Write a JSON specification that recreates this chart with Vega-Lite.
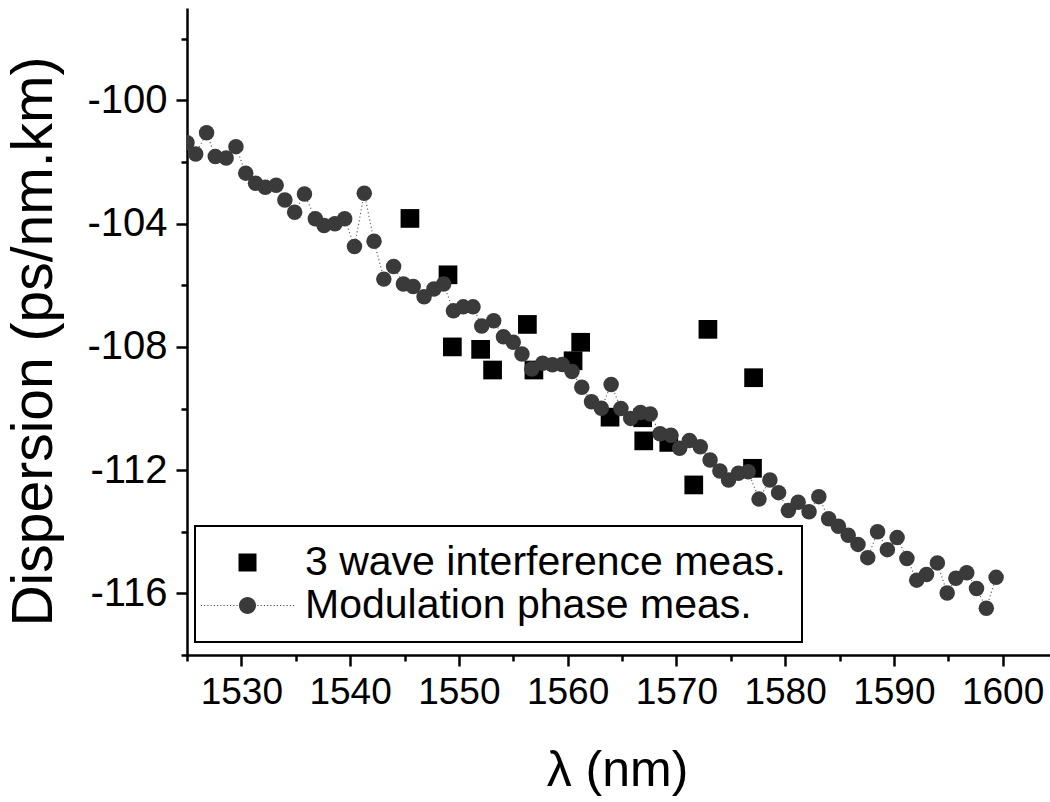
{
  "$schema": "https://vega.github.io/schema/vega-lite/v6.json",
  "autosize": {"type": "none"},
  "padding": {"left": 187, "top": 8, "right": 0, "bottom": 147},
  "width": 870,
  "height": 647,
  "background": "white",
  "config": {
    "view": {"stroke": null},
    "font": "Liberation Sans",
    "axis": {"grid": false, "domainColor": "black", "tickColor": "black", "domainWidth": 2.5, "tickWidth": 2.5, "labelColor": "black", "titleColor": "black", "labelFont": "Liberation Sans", "titleFont": "Liberation Sans", "titleFontWeight": "normal"},
    "legend": {"strokeWidth": 2}
  },
  "data": {"values": [
    {"wl": 1525.0, "d": -101.37, "series": "Modulation phase meas."},
    {"wl": 1525.8, "d": -101.74, "series": "Modulation phase meas."},
    {"wl": 1526.8, "d": -101.05, "series": "Modulation phase meas."},
    {"wl": 1527.6, "d": -101.82, "series": "Modulation phase meas."},
    {"wl": 1528.6, "d": -101.87, "series": "Modulation phase meas."},
    {"wl": 1529.5, "d": -101.50, "series": "Modulation phase meas."},
    {"wl": 1530.4, "d": -102.36, "series": "Modulation phase meas."},
    {"wl": 1531.3, "d": -102.69, "series": "Modulation phase meas."},
    {"wl": 1532.2, "d": -102.82, "series": "Modulation phase meas."},
    {"wl": 1533.2, "d": -102.75, "series": "Modulation phase meas."},
    {"wl": 1534.0, "d": -103.23, "series": "Modulation phase meas."},
    {"wl": 1534.9, "d": -103.63, "series": "Modulation phase meas."},
    {"wl": 1535.8, "d": -103.04, "series": "Modulation phase meas."},
    {"wl": 1536.8, "d": -103.84, "series": "Modulation phase meas."},
    {"wl": 1537.6, "d": -104.06, "series": "Modulation phase meas."},
    {"wl": 1538.6, "d": -104.00, "series": "Modulation phase meas."},
    {"wl": 1539.5, "d": -103.84, "series": "Modulation phase meas."},
    {"wl": 1540.4, "d": -104.74, "series": "Modulation phase meas."},
    {"wl": 1541.3, "d": -103.01, "series": "Modulation phase meas."},
    {"wl": 1542.2, "d": -104.57, "series": "Modulation phase meas."},
    {"wl": 1543.1, "d": -105.80, "series": "Modulation phase meas."},
    {"wl": 1544.0, "d": -105.39, "series": "Modulation phase meas."},
    {"wl": 1544.9, "d": -105.96, "series": "Modulation phase meas."},
    {"wl": 1545.8, "d": -106.04, "series": "Modulation phase meas."},
    {"wl": 1546.8, "d": -106.37, "series": "Modulation phase meas."},
    {"wl": 1547.7, "d": -106.12, "series": "Modulation phase meas."},
    {"wl": 1548.6, "d": -105.96, "series": "Modulation phase meas."},
    {"wl": 1549.5, "d": -106.83, "series": "Modulation phase meas."},
    {"wl": 1550.4, "d": -106.70, "series": "Modulation phase meas."},
    {"wl": 1551.3, "d": -106.70, "series": "Modulation phase meas."},
    {"wl": 1552.1, "d": -107.32, "series": "Modulation phase meas."},
    {"wl": 1553.2, "d": -107.15, "series": "Modulation phase meas."},
    {"wl": 1554.1, "d": -107.67, "series": "Modulation phase meas."},
    {"wl": 1555.0, "d": -107.85, "series": "Modulation phase meas."},
    {"wl": 1555.8, "d": -108.23, "series": "Modulation phase meas."},
    {"wl": 1556.7, "d": -108.72, "series": "Modulation phase meas."},
    {"wl": 1557.7, "d": -108.53, "series": "Modulation phase meas."},
    {"wl": 1558.6, "d": -108.58, "series": "Modulation phase meas."},
    {"wl": 1559.5, "d": -108.57, "series": "Modulation phase meas."},
    {"wl": 1560.4, "d": -108.80, "series": "Modulation phase meas."},
    {"wl": 1561.3, "d": -109.31, "series": "Modulation phase meas."},
    {"wl": 1562.2, "d": -109.78, "series": "Modulation phase meas."},
    {"wl": 1563.1, "d": -109.99, "series": "Modulation phase meas."},
    {"wl": 1564.0, "d": -109.22, "series": "Modulation phase meas."},
    {"wl": 1564.9, "d": -110.00, "series": "Modulation phase meas."},
    {"wl": 1565.8, "d": -110.32, "series": "Modulation phase meas."},
    {"wl": 1566.7, "d": -110.13, "series": "Modulation phase meas."},
    {"wl": 1567.6, "d": -110.18, "series": "Modulation phase meas."},
    {"wl": 1568.5, "d": -110.82, "series": "Modulation phase meas."},
    {"wl": 1569.5, "d": -110.87, "series": "Modulation phase meas."},
    {"wl": 1570.3, "d": -111.29, "series": "Modulation phase meas."},
    {"wl": 1571.2, "d": -111.04, "series": "Modulation phase meas."},
    {"wl": 1572.2, "d": -111.24, "series": "Modulation phase meas."},
    {"wl": 1573.1, "d": -111.67, "series": "Modulation phase meas."},
    {"wl": 1574.0, "d": -112.03, "series": "Modulation phase meas."},
    {"wl": 1574.8, "d": -112.32, "series": "Modulation phase meas."},
    {"wl": 1575.7, "d": -112.10, "series": "Modulation phase meas."},
    {"wl": 1576.6, "d": -112.05, "series": "Modulation phase meas."},
    {"wl": 1577.6, "d": -112.94, "series": "Modulation phase meas."},
    {"wl": 1578.6, "d": -112.32, "series": "Modulation phase meas."},
    {"wl": 1579.4, "d": -112.73, "series": "Modulation phase meas."},
    {"wl": 1580.3, "d": -113.31, "series": "Modulation phase meas."},
    {"wl": 1581.2, "d": -113.04, "series": "Modulation phase meas."},
    {"wl": 1582.2, "d": -113.35, "series": "Modulation phase meas."},
    {"wl": 1583.1, "d": -112.86, "series": "Modulation phase meas."},
    {"wl": 1584.0, "d": -113.58, "series": "Modulation phase meas."},
    {"wl": 1584.9, "d": -113.82, "series": "Modulation phase meas."},
    {"wl": 1585.8, "d": -114.11, "series": "Modulation phase meas."},
    {"wl": 1586.7, "d": -114.41, "series": "Modulation phase meas."},
    {"wl": 1587.6, "d": -114.84, "series": "Modulation phase meas."},
    {"wl": 1588.5, "d": -114.00, "series": "Modulation phase meas."},
    {"wl": 1589.4, "d": -114.58, "series": "Modulation phase meas."},
    {"wl": 1590.3, "d": -114.19, "series": "Modulation phase meas."},
    {"wl": 1591.2, "d": -114.87, "series": "Modulation phase meas."},
    {"wl": 1592.1, "d": -115.57, "series": "Modulation phase meas."},
    {"wl": 1593.0, "d": -115.39, "series": "Modulation phase meas."},
    {"wl": 1594.0, "d": -115.01, "series": "Modulation phase meas."},
    {"wl": 1594.9, "d": -115.99, "series": "Modulation phase meas."},
    {"wl": 1595.7, "d": -115.51, "series": "Modulation phase meas."},
    {"wl": 1596.7, "d": -115.33, "series": "Modulation phase meas."},
    {"wl": 1597.6, "d": -115.84, "series": "Modulation phase meas."},
    {"wl": 1598.5, "d": -116.48, "series": "Modulation phase meas."},
    {"wl": 1599.4, "d": -115.48, "series": "Modulation phase meas."},
    {"wl": 1545.5, "d": -103.83, "series": "3 wave interference meas."},
    {"wl": 1549.0, "d": -105.66, "series": "3 wave interference meas."},
    {"wl": 1549.4, "d": -108.00, "series": "3 wave interference meas."},
    {"wl": 1552.0, "d": -108.08, "series": "3 wave interference meas."},
    {"wl": 1553.1, "d": -108.75, "series": "3 wave interference meas."},
    {"wl": 1556.3, "d": -107.27, "series": "3 wave interference meas."},
    {"wl": 1556.9, "d": -108.75, "series": "3 wave interference meas."},
    {"wl": 1560.5, "d": -108.45, "series": "3 wave interference meas."},
    {"wl": 1561.2, "d": -107.85, "series": "3 wave interference meas."},
    {"wl": 1563.9, "d": -110.28, "series": "3 wave interference meas."},
    {"wl": 1566.9, "d": -110.30, "series": "3 wave interference meas."},
    {"wl": 1567.0, "d": -111.05, "series": "3 wave interference meas."},
    {"wl": 1569.3, "d": -111.10, "series": "3 wave interference meas."},
    {"wl": 1571.6, "d": -112.48, "series": "3 wave interference meas."},
    {"wl": 1572.9, "d": -107.43, "series": "3 wave interference meas."},
    {"wl": 1577.0, "d": -111.94, "series": "3 wave interference meas."},
    {"wl": 1577.1, "d": -109.00, "series": "3 wave interference meas."}
  ]},
  "resolve": {"axis": {"x": "independent", "y": "independent"}},
  "layer": [
    {
      "transform": [{"filter": "datum.series === '3 wave interference meas.'"}],
      "mark": {"type": "point", "shape": "square", "filled": true, "color": "black", "size": 350, "opacity": 1, "clip": true},
      "encoding": {
        "x": {"field": "wl", "type": "quantitative", "scale": {"domain": [1525, 1605], "nice": false, "zero": false},
          "axis": {"orient": "bottom", "values": [1530, 1540, 1550, 1560, 1570, 1580, 1590, 1600], "format": "d", "tickSize": 11, "labelFontSize": 37, "labelPadding": 8, "labelFlush": false, "labelOverlap": false, "title": "λ (nm)", "titleFontSize": 50, "titleX": 430, "titleY": 130, "titleBaseline": "alphabetic"}},
        "y": {"field": "d", "type": "quantitative", "scale": {"domain": [-118, -97], "nice": false, "zero": false},
          "axis": {"orient": "left", "values": [-100, -104, -108, -112, -116], "tickSize": 11, "labelFontSize": 40, "labelPadding": 9, "labelFlush": false, "labelOverlap": false, "labelExpr": "replace(datum.label, '−', '-')", "title": "Dispersion (ps/nm.km)", "titleFontSize": 57, "titleX": -136, "titleY": 333, "titleBaseline": "alphabetic"}}
      }
    },
    {
      "transform": [{"filter": "datum.series === 'Modulation phase meas.'"}],
      "mark": {"type": "line", "color": "#666666", "strokeWidth": 1.2, "strokeDash": [1.2, 2.5], "clip": true},
      "encoding": {
        "x": {"field": "wl", "type": "quantitative", "axis": null},
        "y": {"field": "d", "type": "quantitative", "axis": null}
      }
    },
    {
      "transform": [{"filter": "datum.series === 'Modulation phase meas.'"}],
      "mark": {"type": "circle", "color": "#3a3a3a", "size": 240, "opacity": 1, "clip": true},
      "encoding": {
        "x": {"field": "wl", "type": "quantitative", "axis": null},
        "y": {"field": "d", "type": "quantitative", "axis": null}
      }
    },
    {
      "mark": {"type": "point", "filled": true, "opacity": 0, "clip": true},
      "encoding": {
        "x": {"field": "wl", "type": "quantitative",
          "axis": {"orient": "bottom", "values": [1525, 1535, 1545, 1555, 1565, 1575, 1585, 1595, 1605], "tickSize": 6, "labels": false, "domain": false, "title": null}},
        "y": {"field": "d", "type": "quantitative",
          "axis": {"orient": "left", "values": [-98, -102, -106, -110, -114, -118], "tickSize": 6, "labels": false, "domain": false, "title": null}},
        "shape": {"field": "series", "type": "nominal",
          "scale": {"domain": ["3 wave interference meas.", "Modulation phase meas."], "range": ["square", "M-0.944,0A0.944,0.944,0,1,0,0.944,0A0.944,0.944,0,1,0,-0.944,0ZM-5.18,-0.06h0.12v0.12h-0.12ZM-4.82,-0.06h0.12v0.12h-0.12ZM-4.46,-0.06h0.12v0.12h-0.12ZM-4.1,-0.06h0.12v0.12h-0.12ZM-3.74,-0.06h0.12v0.12h-0.12ZM-3.38,-0.06h0.12v0.12h-0.12ZM-3.02,-0.06h0.12v0.12h-0.12ZM-2.66,-0.06h0.12v0.12h-0.12ZM-2.3,-0.06h0.12v0.12h-0.12ZM-1.94,-0.06h0.12v0.12h-0.12ZM-1.58,-0.06h0.12v0.12h-0.12ZM-1.22,-0.06h0.12v0.12h-0.12ZM1.1,-0.06h0.12v0.12h-0.12ZM1.46,-0.06h0.12v0.12h-0.12ZM1.82,-0.06h0.12v0.12h-0.12ZM2.18,-0.06h0.12v0.12h-0.12ZM2.54,-0.06h0.12v0.12h-0.12ZM2.9,-0.06h0.12v0.12h-0.12ZM3.26,-0.06h0.12v0.12h-0.12ZM3.62,-0.06h0.12v0.12h-0.12ZM3.98,-0.06h0.12v0.12h-0.12ZM4.34,-0.06h0.12v0.12h-0.12ZM4.7,-0.06h0.12v0.12h-0.12ZM5.06,-0.06h0.12v0.12h-0.12Z"]},
          "legend": {"orient": "none", "legendX": 8, "legendY": 518, "title": null, "padding": 16, "strokeColor": "black", "fillColor": "white", "symbolSize": 324, "symbolOpacity": 1, "symbolOffset": 16, "labelOffset": 37, "labelFontSize": 41, "labelFont": "Liberation Sans", "labelColor": "black", "labelLimit": 0, "rowPadding": 1}},
        "color": {"field": "series", "type": "nominal",
          "scale": {"domain": ["3 wave interference meas.", "Modulation phase meas."], "range": ["black", "#3a3a3a"]}}
      }
    }
  ]
}
